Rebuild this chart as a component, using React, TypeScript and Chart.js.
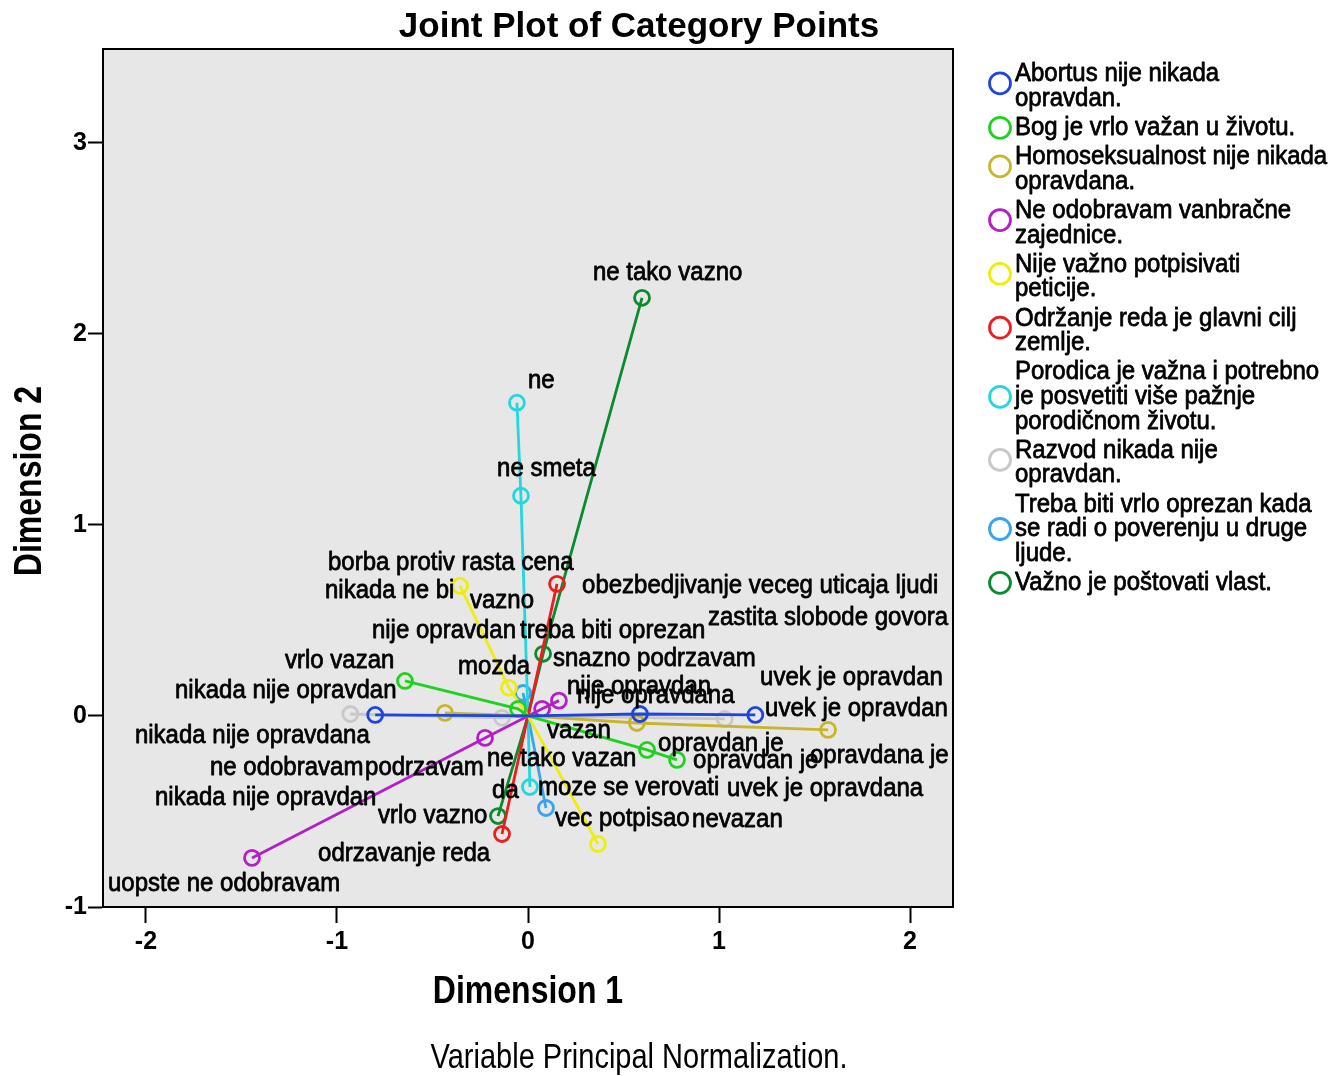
import React, { useEffect, useRef } from "react";
import { Chart, registerables } from "chart.js";

Chart.register(...registerables);

// ---------- Data ----------
const legendLines: string[][] = [
  ["Abortus nije nikada", "opravdan."],
  ["Bog je vrlo važan u životu."],
  ["Homoseksualnost nije nikada", "opravdana."],
  ["Ne odobravam vanbračne", "zajednice."],
  ["Nije važno potpisivati", "peticije."],
  ["Održanje reda je glavni cilj", "zemlje."],
  ["Porodica je važna i potrebno", "je posvetiti više pažnje", "porodičnom životu."],
  ["Razvod nikada nije", "opravdan."],
  ["Treba biti vrlo oprezan kada", "se radi o poverenju u druge", "ljude."],
  ["Važno je poštovati vlast."],
];

const variableColors = [
  "#1f45e0",
  "#1ed21e",
  "#c9b52c",
  "#b41ec8",
  "#eeee0a",
  "#ee1c1c",
  "#22d8e0",
  "#c8c8c8",
  "#3aa2f0",
  "#0b8a2e",
];

// category quantifications (Dimension 1, Dimension 2) per variable
const abortusDim1 = [-0.8, 0.586, 1.19];
const abortusDim2 = [0.005, 0.01, 0.005];
const bogDim1 = [-0.644, -0.052, 0.623, 0.78];
const bogDim2 = [0.183, 0.037, -0.178, -0.23];
const homoDim1 = [-0.435, 0.57, 1.571];
const homoDim2 = [0.016, -0.037, -0.073];
const vanbracneDim1 = [-1.445, -0.225, 0.074, 0.162];
const vanbracneDim2 = [-0.743, -0.115, 0.037, 0.08];
const peticijeDim1 = [-0.356, -0.1, 0.366];
const peticijeDim2 = [0.68, 0.147, -0.67];
const redDim1 = [0.152, -0.136];
const redDim2 = [0.691, -0.618];
const porodicaDim1 = [-0.058, -0.037, 0.01];
const porodicaDim2 = [1.639, 1.152, -0.372];
const razvodDim1 = [-0.93, -0.136, 1.03];
const razvodDim2 = [0.01, -0.01, -0.016];
const oprezanDim1 = [-0.026, 0.094];
const oprezanDim2 = [0.12, -0.482];
const vlastDim1 = [0.597, 0.079, -0.157];
const vlastDim2 = [2.188, 0.325, -0.524];

const variableDim1 = [abortusDim1, bogDim1, homoDim1, vanbracneDim1, peticijeDim1, redDim1, porodicaDim1, razvodDim1, oprezanDim1, vlastDim1];
const variableDim2 = [abortusDim2, bogDim2, homoDim2, vanbracneDim2, peticijeDim2, redDim2, porodicaDim2, razvodDim2, oprezanDim2, vlastDim2];

// category labels and where they sit (data units)
const labelTexts = [
  "ne tako vazno", "ne", "ne smeta", "borba protiv rasta cena", "nikada ne bi", "vazno",
  "obezbedjivanje veceg uticaja ljudi", "zastita slobode govora", "nije opravdan", "treba biti oprezan",
  "vrlo vazan", "mozda", "snazno podrzavam", "uvek je opravdan", "nikada nije opravdan",
  "nije opravdan", "nije opravdana", "uvek je opravdan", "nikada nije opravdana", "vazan",
  "opravdan je", "ne tako vazan", "opravdan je", "opravdana je", "ne odobravam", "podrzavam",
  "nikada nije opravdan", "da", "moze se verovati", "uvek je opravdana", "vrlo vazno",
  "vec potpisao", "nevazan", "odrzavanje reda", "uopste ne odobravam",
];
const labelDim1 = [
  0.34, 0.0, -0.162, -1.047, -1.063, -0.304,
  0.283, 0.942, -0.817, -0.042,
  -1.272, -0.366, 0.131, 1.215, -1.848,
  0.204, 0.257, 1.241, -2.058, 0.099,
  0.681, -0.215, 0.864, 1.476, -1.665, -0.853,
  -1.953, -0.188, 0.052, 1.042, -0.785,
  0.141, 0.859, -1.099, -2.199,
];
const labelDim2 = [
  2.319, 1.754, 1.293, 0.801, 0.654, 0.602,
  0.681, 0.513, 0.445, 0.445,
  0.288, 0.257, 0.298, 0.199, 0.131,
  0.152, 0.105, 0.037, -0.105, -0.079,
  -0.147, -0.225, -0.236, -0.209, -0.272, -0.272,
  -0.429, -0.393, -0.377, -0.382, -0.524,
  -0.539, -0.545, -0.723, -0.88,
];

const xTickValues = [-2, -1, 0, 1, 2];
const yTickValues = [-1, 0, 1, 2, 3];

const chartTitle = "Joint Plot of Category Points";
const xTitle = "Dimension 1";
const yTitle = "Dimension 2";
const footnote = "Variable Principal Normalization.";

// ---------- helpers ----------
const FAMILY = "'Liberation Sans', Arial, sans-serif";

function buildPath(d1: number[], d2: number[]) {
  let best = 0;
  let bestNorm = -1;
  d1.forEach((x, i) => {
    const n = x * x + d2[i] * d2[i];
    if (n > bestNorm) {
      bestNorm = n;
      best = i;
    }
  });
  const dx = d1[best];
  const dy = d2[best];
  const pts = d1.map((x, i) => ({ x, y: d2[i], p: x * dx + d2[i] * dy, origin: false }));
  pts.push({ x: 0, y: 0, p: 0, origin: true });
  pts.sort((a, b) => a.p - b.p);
  return pts;
}

function drawText(
  ctx: CanvasRenderingContext2D,
  text: string,
  x: number,
  y: number,
  font: string,
  align: CanvasTextAlign,
  sy = 1,
  rotate = 0,
  heavy = 0
) {
  ctx.save();
  ctx.translate(x, y);
  if (rotate) ctx.rotate(rotate);
  ctx.scale(1, sy);
  ctx.font = font;
  ctx.textAlign = align;
  ctx.textBaseline = "middle";
  ctx.fillStyle = "#000";
  ctx.fillText(text, 0, 0);
  if (heavy > 0) {
    ctx.strokeStyle = "#000";
    ctx.lineWidth = heavy;
    ctx.lineJoin = "round";
    ctx.strokeText(text, 0, 0);
  }
  ctx.restore();
}

const decorPlugin = {
  id: "decor",
  beforeDraw(chart: any) {
    const { ctx, chartArea } = chart;
    ctx.save();
    ctx.fillStyle = "#ffffff";
    ctx.fillRect(0, 0, chart.width, chart.height);
    ctx.fillStyle = "#e7e7e7";
    ctx.fillRect(chartArea.left, chartArea.top, chartArea.right - chartArea.left, chartArea.bottom - chartArea.top);
    ctx.restore();
  },
  afterDatasetsDraw(chart: any) {
    const { ctx } = chart;
    const xs = chart.scales.x;
    const ys = chart.scales.y;
    labelTexts.forEach((t, i) => {
      drawText(ctx, t, xs.getPixelForValue(labelDim1[i]), ys.getPixelForValue(labelDim2[i]), `24px ${FAMILY}`, "left", 1.1, 0, 0.7);
    });
  },
  afterDraw(chart: any) {
    const { ctx, chartArea } = chart;
    ctx.save();
    ctx.strokeStyle = "#000";
    ctx.lineWidth = 2;
    ctx.strokeRect(chartArea.left, chartArea.top, chartArea.right - chartArea.left, chartArea.bottom - chartArea.top);
    ctx.restore();

    drawText(ctx, chartTitle, 639, 27, `bold 35px ${FAMILY}`, "center", 1.0);
    drawText(ctx, xTitle, (chartArea.left + chartArea.right) / 2, 992, `bold 32px ${FAMILY}`, "center", 1.2);
    drawText(ctx, yTitle, 30, 481, `bold 32px ${FAMILY}`, "center", 1.2, -Math.PI / 2);
    drawText(ctx, footnote, 639, 1058, `29px ${FAMILY}`, "center", 1.2);

    // legend
    const lineH = 24.6;
    const gap = 4.6;
    let y = 74;
    legendLines.forEach((lines, i) => {
      const first = y;
      lines.forEach((ln) => {
        drawText(ctx, ln, 1015, y, `24px ${FAMILY}`, "left", 1.1, 0, 0.7);
        y += lineH;
      });
      const last = y - lineH;
      const cy = lines.length === 2 ? (first + last) / 2 - 3 : (first + last) / 2;
      ctx.save();
      ctx.beginPath();
      ctx.arc(1000, cy, 10.5, 0, Math.PI * 2);
      ctx.strokeStyle = variableColors[i];
      ctx.lineWidth = 2.8;
      ctx.stroke();
      ctx.restore();
      y += gap;
    });
  },
};

export default function App() {
  const canvasRef = useRef<HTMLCanvasElement | null>(null);

  useEffect(() => {
    if (!canvasRef.current) return;
    const datasets = variableDim1.map((d1, i) => ({
      label: legendLines[i].join(" "),
      data: buildPath(d1, variableDim2[i]),
      showLine: true,
      borderColor: variableColors[i],
      backgroundColor: "rgba(0,0,0,0)",
      borderWidth: 2.8,
      pointBorderWidth: 2.8,
      pointRadius: (c: any) => (c.raw && c.raw.origin ? 0 : 7.5),
      pointStyle: "circle",
      tension: 0,
    }));

    const tickFont = { family: "'Liberation Sans', Arial, sans-serif", size: 25, weight: "bold" };

    const chart = new Chart(canvasRef.current, {
      type: "scatter",
      data: { datasets } as any,
      plugins: [decorPlugin as any],
      options: {
        animation: false,
        responsive: false,
        devicePixelRatio: 1,
        events: [],
        layout: { padding: { left: 0, right: 375, top: 49, bottom: 0 } },
        plugins: {
          legend: { display: false },
          title: { display: false },
          tooltip: { enabled: false },
        },
        scales: {
          x: {
            type: "linear",
            min: -2.225,
            max: 2.225,
            afterFit: (s: any) => {
              s.height = 1076 - 907;
            },
            afterBuildTicks: (s: any) => {
              s.ticks = xTickValues.map((v) => ({ value: v }));
            },
            ticks: {
              includeBounds: false,
              color: "#000",
              padding: 4,
              font: tickFont,
              callback: (v: any) => String(v),
            },
            grid: { drawOnChartArea: false, drawTicks: true, tickLength: 16, tickColor: "#000", tickWidth: 2 },
            border: { display: true, color: "#000", width: 2 },
          },
          y: {
            type: "linear",
            min: -1,
            max: 3.49,
            afterFit: (s: any) => {
              s.width = 103;
            },
            afterBuildTicks: (s: any) => {
              s.ticks = yTickValues.map((v) => ({ value: v }));
            },
            ticks: {
              includeBounds: false,
              color: "#000",
              padding: 1,
              font: tickFont,
              callback: (v: any) => String(v),
            },
            grid: { drawOnChartArea: false, drawTicks: true, tickLength: 15, tickColor: "#000", tickWidth: 2 },
            border: { display: true, color: "#000", width: 2 },
          },
        },
      } as any,
    });
    return () => chart.destroy();
  }, []);

  return (
    <div style={{ position: "absolute", left: 0, top: 0, width: 1328, height: 1076 }}>
      <canvas ref={canvasRef} width={1328} height={1076} style={{ display: "block" }} />
    </div>
  );
}
